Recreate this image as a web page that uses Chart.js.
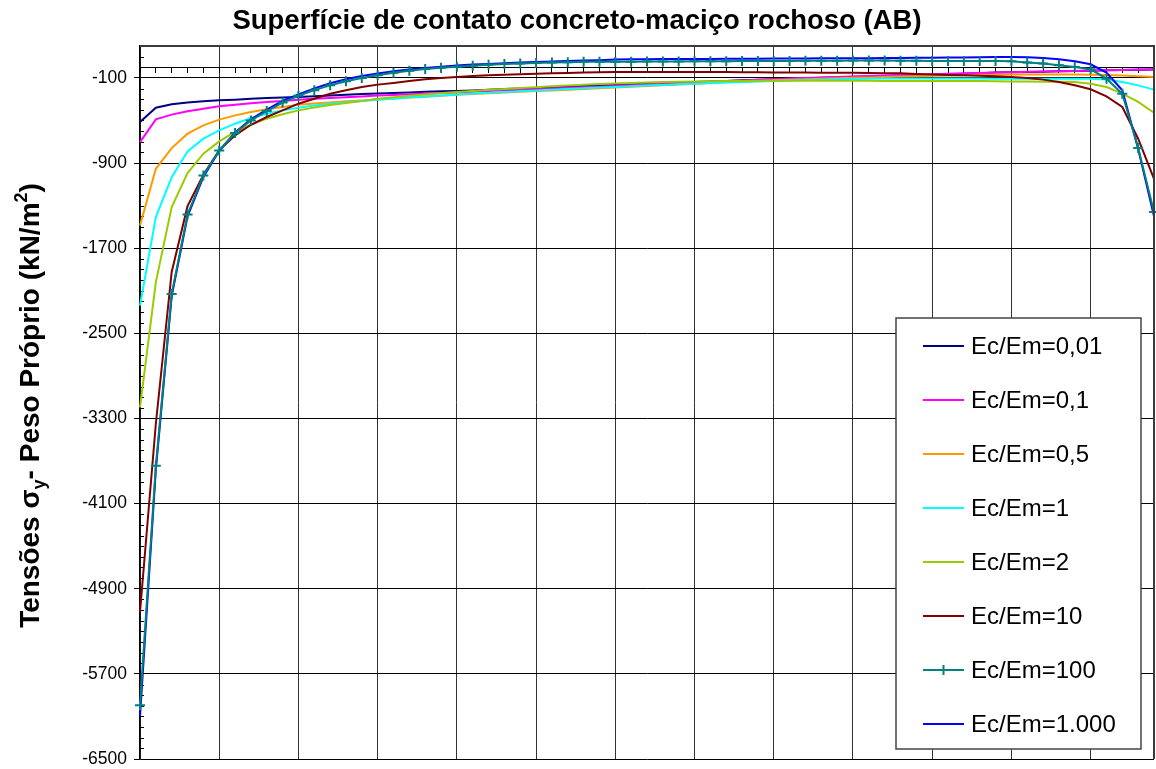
<!DOCTYPE html>
<html>
<head>
<meta charset="utf-8">
<title>Superfície de contato concreto-maciço rochoso (AB)</title>
<script src="https://cdn.jsdelivr.net/npm/chart.js@4.4.1/dist/chart.umd.min.js"></script>
<style>
  html, body { margin: 0; padding: 0; background: #ffffff; }
  #chart { display: block; }
</style>
</head>
<body>
<canvas id="chart" width="1156" height="769"></canvas>
<script>
// pontos ao longo da superficie AB (65 nós)
const categories = Array.from({ length: 65 }, (_, i) => i + 1);

const seriesLabels = ['Ec/Em=0,01', 'Ec/Em=0,1', 'Ec/Em=0,5', 'Ec/Em=1', 'Ec/Em=2', 'Ec/Em=10', 'Ec/Em=100', 'Ec/Em=1.000'];
const seriesColors = ['#000080', '#ff00ff', '#ff9900', '#00ffff', '#99cc00', '#800000', '#008080', '#0000ff'];

const yTickLabels = [-6500, -5700, -4900, -4100, -3300, -2500, -1700, -900, -100];
const yMin = -6500;
const yMax = 200;
const yMinorStep = 100;

const ec001 = [-514, -380, -348, -332, -320, -310, -304, -295, -289, -285,
  -279, -272, -266, -258, -252, -246, -241, -236, -231, -226,
  -222, -217, -211, -205, -200, -195, -189, -183, -177, -172,
  -166, -160, -154, -149, -143, -138, -133, -128, -122, -117,
  -112, -107, -103, -98, -94, -90, -86, -82, -78, -74,
  -70, -66, -60, -55, -50, -47, -44, -41, -38, -35,
  -32, -29, -26, -23, -20];

const ec01 = [-703, -489, -445, -414, -389, -367, -351, -339, -326, -317,
  -304, -296, -289, -281, -274, -266, -260, -253, -247, -241,
  -236, -230, -224, -218, -212, -206, -200, -194, -188, -182,
  -176, -169, -162, -155, -149, -142, -136, -130, -124, -118,
  -112, -106, -101, -96, -91, -86, -82, -78, -73, -69,
  -65, -61, -57, -53, -49, -46, -43, -40, -37, -34,
  -31, -28, -25, -22, -19];

const ec05 = [-1487, -954, -759, -624, -546, -492, -452, -420, -395, -373,
  -351, -340, -330, -320, -311, -302, -294, -285, -277, -268,
  -258, -251, -244, -237, -230, -224, -217, -210, -203, -196,
  -189, -182, -175, -168, -161, -154, -147, -141, -135, -129,
  -123, -118, -113, -108, -103, -99, -95, -91, -87, -84,
  -80, -77, -74, -71, -69, -68, -67, -67, -68, -68,
  -69, -72, -77, -84, -91];

const ec1 = [-2240, -1408, -1032, -790, -671, -593, -530, -477, -436, -405,
  -380, -360, -343, -329, -316, -305, -295, -285, -275, -265,
  -255, -247, -240, -233, -226, -219, -212, -205, -198, -191,
  -185, -178, -172, -166, -160, -154, -148, -143, -138, -133,
  -128, -124, -120, -116, -113, -110, -108, -106, -105, -105,
  -105, -105, -106, -106, -107, -107, -107, -107, -107, -107,
  -108, -115, -138, -170, -210];

const ec2 = [-3196, -2019, -1314, -994, -812, -696, -608, -540, -483, -442,
  -405, -378, -355, -335, -318, -295, -281, -268, -255, -243,
  -232, -222, -212, -203, -195, -187, -179, -172, -165, -158,
  -152, -147, -143, -139, -136, -133, -131, -129, -128, -127,
  -126, -126, -126, -126, -127, -127, -127, -128, -128, -128,
  -129, -129, -130, -130, -131, -133, -134, -135, -137, -138,
  -154, -185, -248, -326, -427];

const ec10 = [-5120, -3350, -1923, -1305, -1010, -781, -640, -540, -467, -405,
  -342, -295, -248, -216, -185, -163, -147, -128, -113, -100,
  -91, -82, -75, -69, -66, -60, -56, -53, -50, -47,
  -45, -44, -44, -44, -44, -44, -45, -45, -46, -47,
  -48, -49, -50, -51, -52, -52, -54, -55, -57, -62,
  -68, -72, -76, -80, -85, -91, -100, -116, -138, -169,
  -207, -273, -373, -671, -1048];

const ec100 = [-5995, -3745, -2130, -1383, -1016, -781, -618, -499, -411, -332,
  -268, -215, -170, -132, -100, -74, -52, -33, -17, -4,
  6, 15, 23, 30, 35, 40, 44, 48, 51, 52,
  52, 53, 54, 55, 55, 56, 57, 57, 58, 59,
  60, 60, 61, 62, 62, 63, 63, 63, 62, 61,
  60, 60, 60, 60, 60, 56, 44, 35, 19, 3,
  -19, -107, -248, -759, -1360];

const ec1000 = [-6100, -3780, -2150, -1400, -1030, -785, -612, -488, -398, -316,
  -254, -198, -150, -112, -82, -58, -38, -20, -6, 6,
  16, 25, 32, 39, 45, 50, 55, 59, 63, 67,
  72, 75, 76, 77, 77, 78, 79, 80, 80, 81,
  82, 82, 83, 84, 84, 85, 86, 87, 88, 89,
  90, 91, 93, 95, 96, 97, 94, 88, 75, 56,
  28, -50, -216, -765, -1400];

const seriesData = [ec001, ec01, ec05, ec1, ec2, ec10, ec100, ec1000];
// ordem de desenho (maior = mais embaixo); marcadores do Ec/Em=100 por cima
const drawOrder = [9, 8, 7, 6, 5, 4, 1, 2];

const FONT = "'Liberation Sans', Arial, sans-serif";

function isMajor(v) {
  return yTickLabels.includes(v);
}

// molduras, ticks menores, legenda e titulo do eixo Y (com sub/sobrescrito)
const chartDecor = {
  id: 'chartDecor',
  beforeDatasetsDraw(chart) {
    const { ctx, chartArea: a, scales: { y } } = chart;
    ctx.save();
    ctx.strokeStyle = '#000';
    ctx.lineWidth = 1;
    ctx.beginPath();
    for (const t of y.ticks) {
      if (isMajor(t.value) || t.value >= yMax) continue;
      const py = Math.round(y.getPixelForValue(t.value)) + 0.5;
      ctx.moveTo(a.left, py);
      ctx.lineTo(a.left + 4, py);
    }
    ctx.stroke();
    ctx.restore();
  },
  afterDraw(chart) {
    const { ctx, chartArea: a } = chart;
    ctx.save();

    // topo e lado direito da area do grafico
    ctx.strokeStyle = '#3c3c3c';
    ctx.lineWidth = 2;
    ctx.beginPath();
    ctx.moveTo(a.left, a.top);
    ctx.lineTo(a.right, a.top);
    ctx.lineTo(a.right, a.bottom);
    ctx.stroke();

    // legenda
    const lx = a.right - 258, ly = a.bottom - 441, lw = 245, lh = 431;
    ctx.fillStyle = '#fff';
    ctx.fillRect(lx, ly, lw, lh);
    ctx.strokeStyle = '#444';
    ctx.lineWidth = 1.5;
    ctx.strokeRect(lx, ly, lw, lh);
    ctx.font = '24px ' + FONT;
    ctx.textBaseline = 'middle';
    ctx.textAlign = 'left';
    chart.data.datasets.forEach((ds, i) => {
      const cy = ly + 28 + i * 54;
      ctx.strokeStyle = ds.borderColor;
      ctx.lineWidth = 2;
      ctx.beginPath();
      ctx.moveTo(lx + 27, cy);
      ctx.lineTo(lx + 68, cy);
      ctx.stroke();
      if (ds.pointStyle === 'cross') {
        ctx.beginPath();
        ctx.moveTo(lx + 47.5, cy - 5);
        ctx.lineTo(lx + 47.5, cy + 5);
        ctx.moveTo(lx + 42.5, cy);
        ctx.lineTo(lx + 52.5, cy);
        ctx.stroke();
      }
      ctx.fillStyle = '#000';
      ctx.fillText(ds.label, lx + 75, cy + 1);
    });

    // titulo do eixo Y
    const big = 28, small = 18;
    const parts = [
      { t: 'Tensões σ', s: big, dy: 0 },
      { t: 'y', s: small, dy: 6 },
      { t: '- Peso Próprio (kN/m', s: big, dy: 0 },
      { t: '2', s: small, dy: -12 },
      { t: ')', s: big, dy: 0 }
    ];
    let total = 0;
    parts.forEach(p => {
      ctx.font = 'bold ' + p.s + 'px ' + FONT;
      p.w = ctx.measureText(p.t).width;
      total += p.w;
    });
    ctx.translate(39, (a.top + a.bottom) / 2 + 3);
    ctx.rotate(-Math.PI / 2);
    ctx.fillStyle = '#000';
    ctx.textBaseline = 'alphabetic';
    let x = -total / 2;
    parts.forEach(p => {
      ctx.font = 'bold ' + p.s + 'px ' + FONT;
      ctx.fillText(p.t, x, p.dy);
      x += p.w;
    });
    ctx.restore();
  }
};

const datasets = seriesData.map((values, i) => ({
  label: seriesLabels[i],
  data: values,
  borderColor: seriesColors[i],
  backgroundColor: seriesColors[i],
  borderWidth: 2,
  tension: 0,
  fill: false,
  pointStyle: i === 6 ? 'cross' : 'circle',
  pointRadius: i === 6 ? 5 : 0,
  pointBorderWidth: 2,
  pointBorderColor: seriesColors[i],
  order: drawOrder[i]
}));

new Chart(document.getElementById('chart').getContext('2d'), {
  type: 'line',
  data: { labels: categories, datasets: datasets },
  options: {
    responsive: false,
    animation: false,
    devicePixelRatio: 1,
    layout: { autoPadding: false, padding: { left: 0, right: 2, top: 0, bottom: 10 } },
    plugins: {
      legend: { display: false },
      tooltip: { enabled: false },
      title: {
        display: true,
        text: 'Superfície de contato concreto-maciço rochoso (AB)',
        color: '#000',
        font: { family: FONT, size: 27.5, weight: 'bold' },
        padding: { top: 5, bottom: 8 }
      }
    },
    scales: {
      x: {
        type: 'category',
        position: { y: 0 }, // eixo X cruza em zero
        offset: false,
        ticks: { display: false, autoSkip: false },
        grid: {
          color: ctx => (ctx.index % 5 === 0 ? '#333' : 'rgba(0,0,0,0)'),
          tickColor: '#000',
          tickLength: 5,
          lineWidth: 1
        },
        border: { display: true, color: '#000', width: 1 },
        afterFit: scale => {
          scale.height = 0;
          scale.paddingLeft = 0;
          scale.paddingRight = 0;
        }
      },
      y: {
        type: 'linear',
        min: yMin,
        max: yMax,
        afterBuildTicks: scale => {
          const ticks = [];
          for (let v = yMin; v <= yMax; v += yMinorStep) ticks.push({ value: v });
          scale.ticks = ticks;
        },
        ticks: {
          autoSkip: false,
          color: '#000',
          padding: 7,
          font: { family: FONT, size: 17.5 },
          callback: v => (isMajor(v) ? String(v) : '')
        },
        grid: {
          color: ctx => (ctx.tick && isMajor(ctx.tick.value) ? '#000' : 'rgba(0,0,0,0)'),
          tickColor: ctx => (ctx.tick && isMajor(ctx.tick.value) ? '#000' : 'rgba(0,0,0,0)'),
          tickLength: 6,
          lineWidth: 1
        },
        border: { display: true, color: '#000', width: 1.5 },
        afterFit: scale => {
          scale.width = 140;
          scale.paddingTop = 0;
          scale.paddingBottom = 0;
        }
      }
    }
  },
  plugins: [chartDecor]
});
</script>
</body>
</html>
